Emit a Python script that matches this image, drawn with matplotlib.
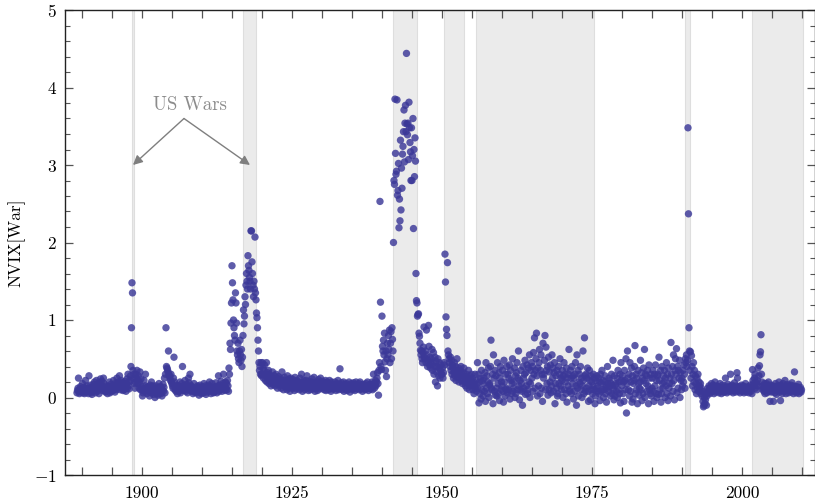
import numpy as np
import matplotlib
matplotlib.use("Agg")
import matplotlib.pyplot as plt
from matplotlib.ticker import MultipleLocator, FuncFormatter

plt.rcParams.update({
    "font.family": "cmr10",
    "mathtext.fontset": "cm",
    "axes.formatter.use_mathtext": True,
    "axes.unicode_minus": True,
})

# Monthly NVIX[War] values, first month = March 1889
start_year = 1889
start_month = 2  # 0-based (March)

nvix_1880s = [0.06, 0.09, 0.12, 0.25, 0.08, 0.05, 0.11, 0.14, 0.07, 0.10]
nvix_1890s = [
    0.08, 0.18, 0.06, 0.10, 0.13, 0.05, 0.09, 0.22, 0.12, 0.07, 0.15, 0.10,
    0.11, 0.05, 0.28, 0.09, 0.12, 0.16, 0.06, 0.10, 0.04, 0.13, 0.08, 0.17,
    0.14, 0.20, 0.10, 0.06, 0.15, 0.22, 0.12, 0.08, 0.18, 0.11, 0.05, 0.13,
    0.19, 0.24, 0.16, 0.12, 0.21, 0.09, 0.14, 0.25, 0.18, 0.10, 0.13, 0.07,
    0.08, 0.12, 0.15, 0.05, 0.10, 0.14, 0.09, 0.20, 0.06, 0.11, 0.17, 0.08,
    0.12, 0.15, 0.09, 0.22, 0.16, 0.11, 0.07, 0.13, 0.19, 0.10, 0.25, 0.14,
    0.18, 0.13, 0.20, 0.28, 0.15, 0.10, 0.22, 0.17, 0.12, 0.19, 0.09, 0.14,
    0.10, 0.16, 0.21, 0.13, 0.08, 0.18, 0.24, 0.12, 0.30, 0.15, 0.11, 0.20,
    0.22, 0.28, 0.40, 0.90, 1.48, 1.35, 0.35, 0.25, 0.30, 0.18, 0.12, 0.20,
    0.30, 0.25, 0.35, 0.22, 0.18, 0.28, 0.12, 0.20, 0.33, 0.10, 0.24, 0.14,
]
nvix_1900s = [
    0.10, 0.02, 0.06, 0.12, 0.22, 0.08, 0.15, 0.30, 0.09, 0.13, 0.05, 0.11,
    0.14, 0.08, 0.12, 0.02, 0.16, 0.10, 0.06, 0.20, 0.13, 0.09, 0.15, 0.04,
    0.07, 0.12, 0.00, 0.10, 0.15, 0.05, 0.08, 0.11, 0.03, 0.13, 0.18, 0.06,
    0.09, 0.14, 0.05, 0.12, 0.02, 0.10, 0.17, 0.08, 0.13, 0.25, 0.06, 0.30,
    0.90, 0.40, 0.38, 0.36, 0.33, 0.60, 0.30, 0.28, 0.25, 0.22, 0.30, 0.20,
    0.18, 0.15, 0.12, 0.25, 0.52, 0.20, 0.10, 0.14, 0.08, 0.16, 0.12, 0.05,
    0.10, 0.15, 0.08, 0.12, 0.20, 0.06, 0.14, 0.10, 0.18, 0.40, 0.12, 0.09,
    0.15, 0.10, 0.22, 0.13, 0.08, 0.17, 0.11, 0.06, 0.14, 0.25, 0.19, 0.10,
    0.30, 0.16, 0.12, 0.08, 0.14, 0.10, 0.05, 0.12, 0.18, 0.07, 0.11, 0.09,
    0.12, 0.06, 0.10, 0.15, 0.08, 0.13, 0.03, 0.11, 0.16, 0.07, 0.10, 0.05,
]
nvix_1910s = [
    0.08, 0.14, 0.10, 0.06, 0.18, 0.12, 0.09, 0.15, 0.04, 0.11, 0.07, 0.13,
    0.10, 0.16, 0.12, 0.20, 0.08, 0.14, 0.05, 0.10, 0.18, 0.13, 0.09, 0.06,
    0.11, 0.07, 0.14, 0.09, 0.19, 0.12, 0.06, 0.10, 0.15, 0.28, 0.08, 0.13,
    0.16, 0.10, 0.21, 0.14, 0.08, 0.12, 0.18, 0.30, 0.11, 0.15, 0.09, 0.20,
    0.12, 0.18, 0.10, 0.22, 0.15, 0.08, 0.38, 0.30, 0.70, 0.62, 0.96, 1.22,
    1.70, 1.48, 1.26, 1.00, 0.90, 0.80, 0.74, 1.35, 1.22, 0.96, 0.60, 0.55,
    0.70, 0.50, 0.45, 0.60, 0.74, 0.55, 0.48, 0.62, 0.40, 0.52, 0.80, 1.13,
    0.95, 1.05, 1.30, 1.20, 1.45, 1.60, 1.50, 1.40, 1.83, 1.70, 1.64, 1.55,
    1.50, 1.40, 2.15, 2.15, 1.75, 1.60, 1.45, 1.30, 1.50, 1.40, 2.07, 1.35,
    1.26, 1.09, 1.03, 0.90, 0.74, 0.60, 0.45, 0.35, 0.40, 0.30, 0.45, 0.28,
]
nvix_1920s = [
    0.30, 0.45, 0.38, 0.25, 0.35, 0.42, 0.30, 0.22, 0.28, 0.45, 0.20, 0.32,
    0.25, 0.35, 0.18, 0.30, 0.22, 0.28, 0.15, 0.26, 0.20, 0.33, 0.17, 0.24,
    0.20, 0.28, 0.15, 0.22, 0.30, 0.18, 0.25, 0.12, 0.20, 0.27, 0.16, 0.23,
    0.18, 0.25, 0.12, 0.20, 0.33, 0.16, 0.22, 0.10, 0.19, 0.26, 0.14, 0.21,
    0.15, 0.22, 0.10, 0.28, 0.17, 0.20, 0.12, 0.24, 0.08, 0.19, 0.25, 0.13,
    0.17, 0.12, 0.23, 0.15, 0.20, 0.09, 0.26, 0.14, 0.18, 0.11, 0.22, 0.16,
    0.20, 0.14, 0.18, 0.10, 0.25, 0.15, 0.12, 0.30, 0.19, 0.08, 0.16, 0.22,
    0.13, 0.20, 0.10, 0.17, 0.22, 0.14, 0.28, 0.12, 0.16, 0.09, 0.21, 0.18,
    0.15, 0.10, 0.20, 0.13, 0.24, 0.16, 0.11, 0.19, 0.26, 0.14, 0.08, 0.17,
    0.12, 0.18, 0.14, 0.09, 0.20, 0.23, 0.15, 0.11, 0.19, 0.25, 0.16, 0.13,
]
nvix_1930s = [
    0.17, 0.21, 0.12, 0.15, 0.10, 0.19, 0.14, 0.22, 0.09, 0.16, 0.20, 0.13,
    0.14, 0.10, 0.18, 0.22, 0.12, 0.16, 0.08, 0.20, 0.15, 0.11, 0.17, 0.13,
    0.11, 0.16, 0.20, 0.13, 0.09, 0.15, 0.18, 0.12, 0.22, 0.10, 0.14, 0.17,
    0.37, 0.15, 0.12, 0.19, 0.10, 0.16, 0.13, 0.20, 0.08, 0.14, 0.17, 0.11,
    0.12, 0.18, 0.09, 0.14, 0.16, 0.11, 0.20, 0.13, 0.07, 0.15, 0.12, 0.18,
    0.13, 0.10, 0.16, 0.19, 0.12, 0.14, 0.09, 0.17, 0.20, 0.11, 0.15, 0.12,
    0.15, 0.12, 0.18, 0.10, 0.20, 0.14, 0.11, 0.16, 0.13, 0.08, 0.17, 0.14,
    0.12, 0.16, 0.10, 0.14, 0.18, 0.11, 0.15, 0.20, 0.13, 0.09, 0.16, 0.12,
    0.14, 0.11, 0.17, 0.13, 0.20, 0.10, 0.15, 0.30, 0.18, 0.12, 0.16, 0.22,
    0.15, 0.20, 0.25, 0.32, 0.18, 0.03, 0.35, 0.45, 2.53, 1.23, 0.40, 0.36,
]
nvix_1940s = [
    1.05, 0.66, 0.60, 0.74, 0.55, 0.83, 0.46, 0.35, 0.60, 0.27, 0.50, 0.70,
    0.55, 0.80, 0.62, 0.87, 0.45, 0.70, 0.85, 0.50, 0.90, 0.75, 0.60, 2.00,
    2.80, 2.75, 3.85, 3.15, 2.88, 2.92, 3.84, 2.61, 2.67, 3.02, 2.19, 2.56,
    2.28, 3.32, 2.42, 2.96, 2.70, 3.14, 3.24, 3.43, 3.71, 3.04, 3.54, 3.77,
    3.43, 4.44, 3.53, 3.39, 3.54, 3.07, 3.81, 3.48, 3.29, 3.17, 2.80, 3.48,
    2.80, 3.12, 3.60, 2.18, 3.20, 2.85, 3.35, 3.05, 1.60, 1.25, 1.22, 1.05,
    1.07, 1.08, 0.83, 0.79, 0.70, 0.61, 0.55, 0.60, 0.50, 0.45, 0.58, 0.65,
    0.91, 0.52, 0.50, 0.60, 0.45, 0.87, 0.55, 0.40, 0.48, 0.93, 0.66, 0.42,
    0.52, 0.38, 0.45, 0.50, 0.62, 0.35, 0.44, 0.58, 0.30, 0.40, 0.52, 0.20,
    0.47, 0.33, 0.40, 0.15, 0.50, 0.28, 0.38, 0.45, 0.25, 0.35, 0.42, 0.30,
]
nvix_1950s = [
    0.30, 0.38, 0.25, 0.32, 0.45, 0.42, 1.85, 1.49, 1.04, 0.88, 0.80, 1.74,
    0.60, 0.55, 0.50, 0.45, 0.40, 0.52, 0.35, 0.48, 0.30, 0.42, 0.38, 0.25,
    0.32, 0.45, 0.28, 0.40, 0.22, 0.35, 0.50, 0.30, 0.26, 0.38, 0.20, 0.33,
    0.28, 0.35, 0.40, 0.22, 0.30, 0.18, 0.25, 0.32, 0.38, 0.20, 0.27, 0.15,
    0.22, 0.30, 0.12, 0.25, 0.18, 0.35, 0.20, 0.10, 0.28, 0.15, 0.23, 0.30,
    0.18, 0.25, 0.10, 0.20, 0.05, 0.15, 0.30, 0.12, 0.22, 0.08, 0.17, 0.45,
    0.12, 0.30, -0.07, 0.20, 0.05, 0.25, -0.02, 0.35, 0.10, 0.22, 0.02, 0.18,
    0.25, 0.08, 0.32, -0.05, 0.45, 0.12, 0.28, 0.05, 0.20, 0.38, 0.00, 0.16,
    0.18, 0.40, 0.74, 0.12, 0.10, 0.30, -0.08, 0.55, 0.25, 0.08, 0.35, 0.03,
    0.28, 0.12, 0.02, 0.45, 0.18, 0.05, 0.32, -0.04, 0.25, 0.40, 0.10, 0.20,
]
nvix_1960s = [
    0.15, 0.35, 0.08, -0.06, 0.48, 0.20, 0.02, 0.30, 0.10, 0.12, 0.40, 0.06,
    0.30, 0.10, 0.25, 0.42, -0.02, 0.35, 0.22, 0.05, 0.18, 0.50, 0.08, 0.12,
    0.20, 0.38, 0.00, 0.28, 0.05, 0.32, 0.45, 0.10, 0.25, 0.60, 0.15, -0.03,
    0.22, 0.10, 0.35, 0.18, 0.08, -0.10, 0.40, 0.25, 0.12, 0.30, 0.48, 0.04,
    0.32, 0.15, 0.42, 0.05, 0.10, 0.38, 0.20, 0.55, 0.00, 0.18, 0.35, 0.45,
    0.25, 0.40, 0.08, 0.58, 0.30, 0.77, 0.12, 0.35, 0.50, 0.83, 0.28, 0.02,
    0.38, 0.15, 0.45, 0.62, 0.05, 0.35, 0.55, 0.12, 0.30, -0.05, 0.70, 0.25,
    0.30, 0.48, 0.80, 0.10, 0.65, 0.35, 0.18, 0.40, 0.03, 0.52, 0.10, 0.33,
    0.20, 0.42, 0.06, 0.15, 0.55, 0.25, 0.38, 0.08, 0.32, 0.45, -0.08, 0.18,
    0.28, 0.12, 0.35, 0.02, 0.05, 0.40, 0.18, 0.30, 0.50, 0.15, 0.25, 0.10,
]
nvix_1970s = [
    0.22, 0.35, 0.00, 0.28, 0.45, 0.10, 0.30, 0.20, 0.05, 0.38, -0.06, 0.25,
    0.15, 0.30, 0.62, 0.08, 0.10, 0.35, 0.25, 0.05, 0.40, 0.18, 0.28, -0.02,
    0.25, 0.08, 0.30, 0.45, 0.15, -0.10, 0.55, 0.12, 0.35, 0.02, 0.20, 0.30,
    0.18, 0.40, 0.10, 0.25, 0.00, 0.15, 0.60, 0.22, 0.05, 0.77, 0.28, 0.08,
    0.30, 0.12, 0.25, 0.38, 0.08, -0.05, 0.15, 0.35, 0.22, -0.03, 0.28, 0.10,
    0.20, 0.05, 0.15, 0.30, 0.10, 0.25, -0.08, 0.02, 0.22, 0.12, 0.28, 0.08,
    0.15, 0.25, 0.05, 0.20, -0.04, 0.30, 0.08, 0.18, 0.35, 0.10, 0.22, 0.00,
    0.10, 0.20, 0.28, 0.05, 0.15, -0.06, 0.12, 0.40, 0.18, 0.08, 0.25, 0.14,
    0.22, 0.02, 0.18, 0.30, 0.05, 0.15, 0.48, 0.10, -0.03, 0.28, 0.02, 0.16,
    0.18, 0.08, 0.25, 0.00, 0.35, 0.10, 0.20, 0.05, 0.30, -0.07, 0.45, 0.22,
]
nvix_1980s = [
    0.15, 0.28, 0.05, 0.20, -0.05, 0.35, 0.22, 0.10, 0.50, -0.20, 0.18, 0.60,
    0.25, 0.10, 0.30, 0.02, 0.45, 0.08, 0.20, 0.38, -0.06, 0.28, -0.02, 0.18,
    0.22, 0.40, 0.67, 0.05, 0.30, 0.10, 0.25, -0.08, 0.35, 0.18, 0.03, 0.12,
    0.20, 0.48, 0.10, 0.32, -0.04, 0.25, 0.05, 0.38, 0.22, 0.62, 0.00, 0.30,
    0.18, 0.28, 0.08, 0.35, 0.15, -0.08, 0.42, 0.10, 0.25, 0.05, 0.30, 0.02,
    0.12, 0.25, 0.35, 0.08, -0.05, 0.30, 0.15, 0.42, 0.05, 0.22, 0.00, 0.28,
    0.30, 0.04, 0.52, 0.22, 0.10, 0.35, -0.06, 0.05, 0.40, 0.18, 0.12, 0.28,
    0.20, 0.35, 0.00, 0.25, 0.15, 0.45, 0.05, 0.30, -0.04, 0.38, 0.12, 0.18,
    0.25, 0.02, 0.71, 0.30, 0.18, 0.40, 0.08, 0.55, 0.22, -0.03, 0.35, 0.50,
    0.30, 0.63, 0.06, 0.40, 0.12, 0.35, 0.25, 0.48, 0.00, 0.32, 0.22, 0.10,
]
nvix_1990s = [
    0.25, 0.15, 0.35, 0.20, 0.42, 0.30, 0.12, 0.50, 0.45, 0.55, 0.40, 0.48,
    3.48, 2.37, 0.90, 0.60, 0.35, 0.59, 0.25, 0.54, 0.40, 0.15, 0.30, 0.45,
    0.20, 0.35, 0.10, 0.28, 0.18, 0.05, 0.25, 0.12, 0.30, 0.08, 0.20, 0.15,
    0.10, 0.18, 0.05, 0.12, 0.02, 0.08, -0.05, -0.12, -0.10, 0.00, -0.08, -0.03,
    0.05, -0.10, 0.02, 0.08, 0.12, 0.06, 0.15, 0.10, 0.05, 0.13, 0.09, 0.18,
    0.12, 0.08, 0.16, 0.10, 0.05, 0.14, 0.20, 0.07, 0.11, 0.15, 0.09, 0.13,
    0.09, 0.14, 0.06, 0.12, 0.18, 0.08, 0.13, 0.05, 0.10, 0.16, 0.11, 0.07,
    0.11, 0.07, 0.15, 0.25, 0.09, 0.13, 0.06, 0.12, 0.17, 0.08, 0.10, 0.14,
    0.13, 0.30, 0.08, 0.12, 0.16, 0.10, 0.06, 0.14, 0.09, 0.19, 0.12, 0.07,
    0.10, 0.15, 0.32, 0.25, 0.12, 0.08, 0.14, 0.10, 0.06, 0.13, 0.09, 0.16,
]
nvix_2000s = [
    0.12, 0.08, 0.15, 0.10, 0.06, 0.14, 0.09, 0.18, 0.11, 0.07, 0.13, 0.10,
    0.09, 0.14, 0.06, 0.12, 0.10, 0.16, 0.08, 0.13, 0.05, 0.36, 0.22, 0.18,
    0.15, 0.25, 0.30, 0.12, 0.20, 0.18, 0.10, 0.22, 0.38, 0.15, 0.28, 0.41,
    0.55, 0.59, 0.81, 0.30, 0.20, 0.15, 0.10, 0.12, 0.08, 0.18, 0.05, 0.14,
    0.10, 0.18, 0.06, 0.15, 0.12, 0.20, 0.08, 0.13, -0.05, 0.16, 0.10, 0.07,
    0.12, 0.08, 0.15, -0.05, 0.10, 0.14, 0.06, 0.18, 0.11, 0.04, 0.13, 0.09,
    0.15, 0.10, 0.20, 0.07, 0.12, -0.04, 0.16, 0.09, 0.14, 0.05, 0.18, 0.11,
    0.08, 0.13, 0.22, 0.10, 0.05, 0.15, 0.09, 0.17, 0.12, 0.06, 0.14, 0.10,
    0.11, 0.16, 0.07, 0.13, 0.19, 0.09, 0.15, 0.05, 0.12, 0.33, 0.08, 0.14,
    0.10, 0.06, 0.14, 0.09, 0.12, 0.17, 0.05, 0.11, 0.08, 0.13, 0.07, 0.10,
]

# US war periods (start, end) in decimal years
war_starts = [1898.3, 1916.9, 1941.9, 1950.35, 1955.7, 1990.5, 2001.7]
war_ends = [1898.65, 1919.0, 1945.8, 1953.6, 1975.3, 1991.3, 2010.2]

annot_text = "US Wars"
annot_text_xy = (1908.0, 3.77)
annot_tail_xy = (1907.0, 3.6)
annot_targets = [(1898.5, 3.0), (1918.0, 3.0)]

values = np.array(nvix_1880s + nvix_1890s + nvix_1900s + nvix_1910s + nvix_1920s
                  + nvix_1930s + nvix_1940s + nvix_1950s + nvix_1960s + nvix_1970s
                  + nvix_1980s + nvix_1990s + nvix_2000s)
dates = start_year + (start_month + np.arange(len(values))) / 12.0

fig = plt.figure(figsize=(8.15, 5.04), dpi=100)
ax = fig.add_axes([65 / 815, 29 / 504, 749.5 / 815, 465 / 504])

for s, e in zip(war_starts, war_ends):
    ax.axvspan(s, e, facecolor="#ebebeb", edgecolor="#dedede", lw=0.8, zorder=0)

ax.scatter(dates, values, s=28, color="#3b3898", alpha=0.82, edgecolors="none", zorder=3)

ax.text(annot_text_xy[0], annot_text_xy[1], annot_text, color="#8c8c8c",
        fontsize=13.5, ha="center", va="center", zorder=4)
for tx, ty in annot_targets:
    ax.annotate("", xy=(tx, ty), xytext=annot_tail_xy,
                arrowprops=dict(arrowstyle="-|>", color="#7f7f7f", lw=1.0,
                                mutation_scale=14, shrinkA=0, shrinkB=0), zorder=4)

ax.set_xlim(1887.17, 1887.17 + 749.5 / 6.0)
ax.set_ylim(-1, 5)

ax.xaxis.set_major_locator(MultipleLocator(5))
ax.xaxis.set_major_formatter(FuncFormatter(
    lambda v, p: ("%d" % round(v)) if round(v) % 25 == 0 else ""))
ax.yaxis.set_major_locator(MultipleLocator(1))
ax.yaxis.set_minor_locator(MultipleLocator(0.2))

ax.tick_params(axis="both", which="both", direction="in", top=True, right=True,
               color="#555555", labelsize=12.5)
ax.tick_params(axis="x", which="major", length=5.5, width=0.9, pad=8)
ax.tick_params(axis="y", which="major", length=6, width=0.9, pad=6)
ax.tick_params(axis="y", which="minor", length=3.5, width=0.8)

for sp in ax.spines.values():
    sp.set_linewidth(1.0)
    sp.set_color("#222222")

ax.set_ylabel("NVIX[War]", fontsize=12.5, labelpad=6)

fig.savefig("out.png", dpi=100)
